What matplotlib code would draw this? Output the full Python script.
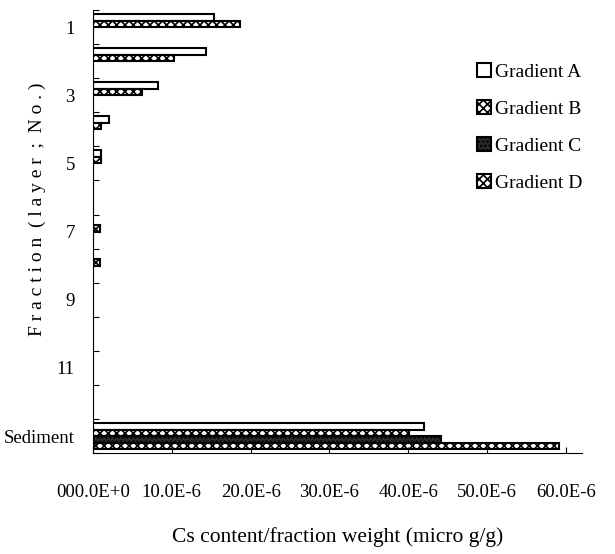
import matplotlib.pyplot as plt
import numpy as np

plt.rcParams['font.family'] = ['Liberation Serif', 'DejaVu Serif']
plt.rcParams['hatch.linewidth'] = 1.2

# Fractions 1..12 and the sediment, values in g/g
fractions = [str(i) for i in range(1, 13)] + ['Sediment']
grad_a = [15.3, 14.4, 8.2, 2.0, 1.0, 0, 0, 0, 0, 0, 0, 0, 42.0]
grad_b = [18.6, 10.3, 6.2, 1.0, 1.0, 0, 0.9, 0.9, 0, 0, 0, 0, 40.1]
grad_c = [0, 0, 0, 0, 0, 0, 0, 0, 0, 0, 0, 0, 44.2]
grad_d = [0, 0, 0, 0, 0, 0, 0, 0, 0, 0, 0, 0, 59.1]
series = [('Gradient A', grad_a), ('Gradient B', grad_b),
          ('Gradient C', grad_c), ('Gradient D', grad_d)]
x_ticks = [0, 10e-6, 20e-6, 30e-6, 40e-6, 50e-6, 60e-6]
x_labels = ['000.0E+0', '10.0E-6', '20.0E-6', '30.0E-6', '40.0E-6', '50.0E-6', '60.0E-6']

styles = [dict(facecolor='white', hatch=None),
          dict(facecolor='white', hatch='xxxx'),
          dict(facecolor='#2a2a2a', hatch='....'),
          dict(facecolor='white', hatch='xxxx')]

fig = plt.figure(figsize=(6.15, 5.54), dpi=100)
ax = fig.add_axes([0.151, 0.182, 0.795, 0.800])

pos = np.arange(len(fractions))
h = 0.19
for k, ((name, vals), st) in enumerate(zip(series, styles)):
    ax.barh(pos + (k - 1.5) * h, np.array(vals) * 1e-6, height=h,
            edgecolor='black', linewidth=1.5, label=name, **st)

ax.set_ylim(len(fractions) - 0.5, -0.5)
ax.set_xlim(0, 62e-6)

# category boundary ticks, labels on every other category
ax.set_yticks(np.arange(-0.5, len(fractions), 1.0))
ax.set_yticklabels([])
lab_pos = [0, 2, 4, 6, 8, 10, 12]
ax.set_yticks(lab_pos, minor=True)
ax.set_yticklabels([fractions[i] for i in lab_pos], minor=True, fontsize=13.5)
ax.tick_params(axis='y', which='minor', length=0, pad=13)
ax.tick_params(axis='y', which='major', direction='in', length=4)

ax.set_xticks(x_ticks)
ax.set_xticklabels(x_labels, fontsize=13.5)
ax.tick_params(axis='x', direction='in', length=4, pad=22)

ax.spines['top'].set_visible(False)
ax.spines['right'].set_visible(False)

ax.set_xlabel('Cs content/fraction weight (micro g/g)', fontsize=15.5, labelpad=19)
ax.set_ylabel('F r a c t i o n  ( l a y e r  ;  N o . )', fontsize=14)
ax.yaxis.set_label_coords(-0.095, 0.55)

ax.legend(loc='upper left', bbox_to_anchor=(0.75, 0.92), frameon=False,
          fontsize=14, handlelength=0.7, handleheight=0.7, handletextpad=0.2,
          labelspacing=1.0)

fig.savefig('out.png', dpi=100)
